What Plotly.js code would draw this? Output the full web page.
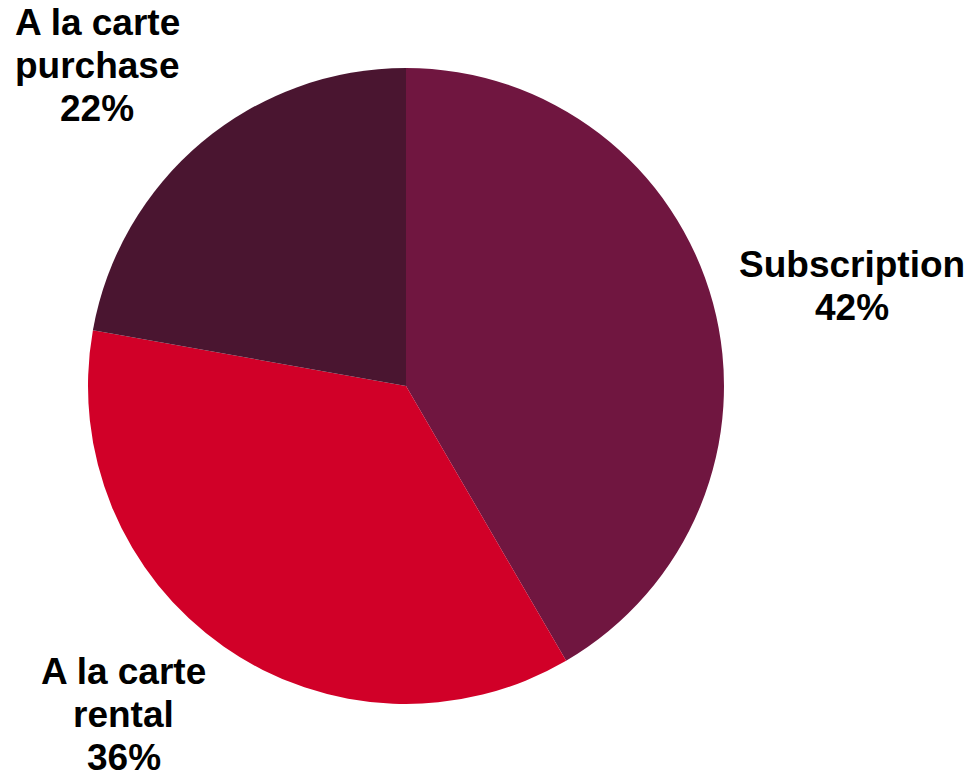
<!DOCTYPE html>
<html>
<head>
<meta charset="utf-8">
<script src="https://cdn.plot.ly/plotly-3.0.1.min.js"></script>
<style>html,body{margin:0;padding:0;background:#fff;}#chart{width:970px;height:775px;}</style>
</head>
<body>
<div id="chart"></div>
<script>
// Data
var categories = ["Subscription", "A la carte rental", "A la carte purchase"];
var labelLines = [["Subscription"], ["A la carte", "rental"], ["A la carte", "purchase"]];
var values = [41.6, 36.2, 22.2];
var colors = ["#701640", "#D10028", "#4A1530"];

// Label placement (pixels: center x, baseline of first line)
var W = 970, H = 775;
var labelPos = [[852, 277], [124, 684], [97, 35]];
var lineStep = 43;
var fontSize = 37;

var total = values.reduce(function(a, b){ return a + b; }, 0);
var annotations = [];
categories.forEach(function(c, i){
  var lines = labelLines[i].concat([Math.round(values[i] / total * 100) + "%"]);
  lines.forEach(function(t, k){
    var baseline = labelPos[i][1] + k * lineStep;
    var centerY = baseline - 0.3465 * fontSize;
    annotations.push({
      text: "<b>" + t + "</b>",
      xref: "paper", yref: "paper",
      x: labelPos[i][0] / W, y: 1 - centerY / H,
      xanchor: "center", yanchor: "middle",
      showarrow: false,
      font: {family: "Liberation Sans, Arial, sans-serif", size: fontSize, color: "#000"}
    });
  });
});

var trace = {
  type: "pie",
  labels: categories,
  values: values,
  marker: {colors: colors, line: {width: 0}},
  sort: false,
  direction: "clockwise",
  rotation: 0,
  textinfo: "none",
  hoverinfo: "label+percent",
  domain: {x: [88 / W, 724 / W], y: [1 - 704 / H, 1 - 68 / H]}
};

var layout = {
  width: W, height: H,
  margin: {l: 0, r: 0, t: 0, b: 0},
  paper_bgcolor: "#fff",
  showlegend: false,
  annotations: annotations
};

Plotly.newPlot("chart", [trace], layout, {displayModeBar: false, staticPlot: true});
</script>
</body>
</html>
